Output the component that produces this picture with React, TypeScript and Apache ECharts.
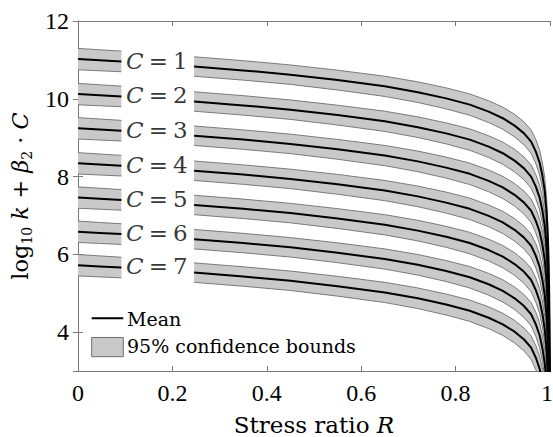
import React, { useEffect, useRef } from 'react';
import * as echarts from 'echarts';

// Stress ratio grid (x positions of read-off points)
const rValues = [0, 0.046, 0.092, 0.246, 0.35, 0.45, 0.55, 0.65, 0.72, 0.78, 0.83, 0.87, 0.9, 0.925, 0.945, 0.96, 0.97, 0.978, 0.984, 0.989, 0.993, 0.996, 0.998, 0.999, 1.0];

// Mean curves log10 k + beta2*C
const meanC1 = [11.02, 10.99, 10.96, 10.83, 10.73, 10.62, 10.48, 10.32, 10.17, 10.01, 9.85, 9.67, 9.5, 9.31, 9.11, 8.9, 8.64, 8.36, 8.02, 7.62, 7.05, 6.25, 5.25, 4.25, 2.5];
const meanC2 = [10.12, 10.09, 10.06, 9.93, 9.83, 9.72, 9.58, 9.42, 9.27, 9.11, 8.95, 8.77, 8.6, 8.41, 8.21, 8.0, 7.74, 7.46, 7.12, 6.72, 6.15, 5.35, 4.35, 3.35, 1.6];
const meanC3 = [9.24, 9.21, 9.18, 9.05, 8.95, 8.84, 8.7, 8.54, 8.39, 8.23, 8.07, 7.89, 7.72, 7.53, 7.33, 7.12, 6.86, 6.58, 6.24, 5.84, 5.27, 4.47, 3.47, 2.47, 0.72];
const meanC4 = [8.34, 8.31, 8.28, 8.15, 8.05, 7.94, 7.8, 7.64, 7.49, 7.33, 7.17, 6.99, 6.82, 6.63, 6.43, 6.22, 5.96, 5.68, 5.34, 4.94, 4.37, 3.57, 2.57, 1.57, -0.18];
const meanC5 = [7.46, 7.43, 7.4, 7.27, 7.17, 7.06, 6.92, 6.76, 6.61, 6.45, 6.29, 6.11, 5.94, 5.75, 5.55, 5.34, 5.08, 4.8, 4.46, 4.06, 3.49, 2.69, 1.69, 0.69, -1.06];
const meanC6 = [6.58, 6.55, 6.52, 6.39, 6.29, 6.18, 6.04, 5.88, 5.73, 5.57, 5.41, 5.23, 5.06, 4.87, 4.67, 4.46, 4.2, 3.92, 3.58, 3.18, 2.61, 1.81, 0.81, -0.19, -1.94];
const meanC7 = [5.72, 5.69, 5.66, 5.53, 5.43, 5.32, 5.18, 5.02, 4.87, 4.71, 4.55, 4.37, 4.2, 4.01, 3.81, 3.6, 3.34, 3.06, 2.72, 2.32, 1.75, 0.95, -0.05, -1.05, -2.8];

// Half width of the 95% confidence band at each R
const halfWidth = [0.275, 0.27, 0.265, 0.25, 0.25, 0.25, 0.255, 0.26, 0.265, 0.27, 0.275, 0.28, 0.285, 0.29, 0.295, 0.3, 0.31, 0.32, 0.33, 0.34, 0.36, 0.38, 0.4, 0.42, 0.45];

// Curve labels
const cLabels = ['1', '2', '3', '4', '5', '6', '7'];
const labelR = 0.167;
const labelY = [10.97, 10.09, 9.2, 8.31, 7.43, 6.56, 5.7];

// Legend texts
const legendMean = 'Mean';
const legendBand = '95% confidence bounds';

// Gap (label area) between segments
const gapFrom = 0.1;
const gapTo = 0.2;

const curves = [meanC1, meanC2, meanC3, meanC4, meanC5, meanC6, meanC7];

const FONT_TEXT = 'DejaVu Serif';
const FONT_NUM = 'Liberation Serif';
const AXIS_GRAY = '#7a7a7a';
const BAND_FILL = '#c9c9c9';
const BAND_EDGE = '#6e6e6e';

export default function App() {
  const ref = useRef<HTMLDivElement>(null);

  useEffect(() => {
    if (!ref.current) return;
    const chart = echarts.init(ref.current, null, { renderer: 'svg' });

    const idxAll = rValues.map((_, i) => i);
    const segments = [
      idxAll.filter((i) => rValues[i] <= gapFrom),
      idxAll.filter((i) => rValues[i] >= gapTo),
    ];

    const bandItems: { ci: number; si: number }[] = [];
    curves.forEach((_, ci) => segments.forEach((_, si) => bandItems.push({ ci, si })));

    const lineSeries: any[] = [];
    curves.forEach((m) => {
      segments.forEach((idx) => {
        lineSeries.push({
          type: 'line',
          name: legendMean,
          data: idx.map((i) => [rValues[i], m[i]]),
          symbol: 'none',
          showSymbol: false,
          clip: true,
          z: 3,
          lineStyle: { color: '#000', width: 2 },
          itemStyle: { color: '#000' },
          silent: true,
        });
      });
    });

    const axisCommon = {
      axisLine: { show: true, lineStyle: { color: AXIS_GRAY, width: 1 } },
      axisTick: { show: true, inside: true, length: 5, lineStyle: { color: AXIS_GRAY, width: 1 } },
      splitLine: { show: false },
    };

    const option: any = {
      animation: false,
      backgroundColor: '#fff',
      textStyle: { fontFamily: FONT_TEXT },
      grid: { left: 78, right: 3, top: 21, bottom: 66, containLabel: false, outerBoundsMode: 'none' },
      graphic: [
        {
          type: 'line',
          z: 10,
          shape: { x1: 91.7, y1: 318.3, x2: 123.3, y2: 318.3 },
          style: { stroke: '#000', lineWidth: 2 },
        },
        {
          type: 'rect',
          z: 10,
          shape: { x: 91.7, y: 337.5, width: 31.6, height: 19.2 },
          style: { fill: BAND_FILL, stroke: BAND_EDGE, lineWidth: 1 },
        },
        {
          type: 'text',
          z: 10,
          x: 127,
          y: 319,
          style: {
            text: legendMean,
            fontFamily: FONT_TEXT,
            fontSize: 19,
            fill: '#000',
            align: 'left',
            verticalAlign: 'middle',
          },
        },
        {
          type: 'text',
          z: 10,
          x: 127,
          y: 346,
          style: {
            text: legendBand,
            fontFamily: FONT_TEXT,
            fontSize: 19,
            fill: '#000',
            align: 'left',
            verticalAlign: 'middle',
          },
        },
      ],
      xAxis: [
        {
          type: 'value',
          min: 0,
          max: 1,
          interval: 0.2,
          position: 'bottom',
          ...axisCommon,
          axisLabel: {
            margin: 10,
            fontFamily: FONT_NUM,
            fontSize: 24,
            color: '#000',
            formatter: (v: number) => (v === 1 ? '{r|1}' : String(v)),
            rich: {
              r: { fontFamily: FONT_NUM, fontSize: 24, color: '#000', padding: [0, 6, 0, 0] },
            },
          },
          name: '{t|Stress ratio }{i|R}',
          nameLocation: 'middle',
          nameGap: 42,
          nameTextStyle: {
            rich: {
              t: { fontFamily: FONT_TEXT, fontSize: 23, lineHeight: 23, color: '#000' },
              i: { fontFamily: FONT_TEXT, fontSize: 23, lineHeight: 23, fontStyle: 'italic', color: '#000' },
            },
          },
        },
        {
          type: 'value',
          min: 0,
          max: 1,
          interval: 0.2,
          position: 'top',
          ...axisCommon,
          axisLabel: { show: false },
        },
      ],
      yAxis: [
        {
          type: 'value',
          min: 3,
          max: 12,
          position: 'left',
          ...axisCommon,
          axisLabel: { margin: 9, fontFamily: FONT_NUM, fontSize: 24, color: '#000', showMinLabel: false },
          name: '{t|log}{s|10}{t| }{i|k}{t| + }{i|β}{s|2}{t| · }{i|C}',
          nameLocation: 'middle',
          nameRotate: 90,
          nameGap: 39,
          nameTextStyle: {
            rich: {
              t: { fontFamily: FONT_TEXT, fontSize: 22.5, lineHeight: 28, color: '#000' },
              i: { fontFamily: FONT_TEXT, fontSize: 22.5, lineHeight: 28, fontStyle: 'italic', color: '#000' },
              s: { fontFamily: FONT_TEXT, fontSize: 14, lineHeight: 14, verticalAlign: 'bottom', color: '#000' },
            },
          },
        },
        {
          type: 'value',
          min: 3,
          max: 12,
          position: 'right',
          ...axisCommon,
          axisLabel: { show: false },
        },
      ],
      series: [
        {
          type: 'custom',
          name: legendBand,
          clip: true,
          z: 2,
          silent: true,
          itemStyle: { color: BAND_FILL },
          data: bandItems.map((b) => [b.ci, b.si]),
          renderItem: (params: any, api: any) => {
            const b = bandItems[params.dataIndex];
            const m = curves[b.ci];
            const idx = segments[b.si];
            const up = idx.map((i) => api.coord([rValues[i], m[i] + halfWidth[i]]));
            const lo = idx.map((i) => api.coord([rValues[i], m[i] - halfWidth[i]]));
            return {
              type: 'group',
              children: [
                {
                  type: 'polygon',
                  shape: { points: up.concat(lo.slice().reverse()) },
                  style: { fill: BAND_FILL, stroke: null },
                },
                {
                  type: 'polyline',
                  shape: { points: up },
                  style: { fill: null, stroke: BAND_EDGE, lineWidth: 0.9 },
                },
                {
                  type: 'polyline',
                  shape: { points: lo },
                  style: { fill: null, stroke: BAND_EDGE, lineWidth: 0.9 },
                },
              ],
            };
          },
        },
        ...lineSeries,
        {
          type: 'scatter',
          name: 'curveLabels',
          symbolSize: 1,
          itemStyle: { color: 'rgba(0,0,0,0)' },
          z: 4,
          silent: true,
          data: labelY.map((y, i) => ({ value: [labelR, y], name: cLabels[i] })),
          label: {
            show: true,
            position: 'inside',
            formatter: (p: any) => '{i|C}{e|=}{n|' + p.name + '}',
            rich: {
              i: { fontFamily: FONT_TEXT, fontSize: 23, fontStyle: 'italic', color: '#000' },
              e: { fontFamily: FONT_TEXT, fontSize: 23, color: '#000', padding: [0, 5, 0, 5] },
              n: { fontFamily: FONT_TEXT, fontSize: 23, color: '#000' },
            },
          },
        },
      ],
    };

    chart.setOption(option);
    return () => {
      chart.dispose();
    };
  }, []);

  return (
    <div
      ref={ref}
      style={{ position: 'absolute', left: 0, top: 0, width: 553, height: 437, background: '#fff' }}
    />
  );
}
